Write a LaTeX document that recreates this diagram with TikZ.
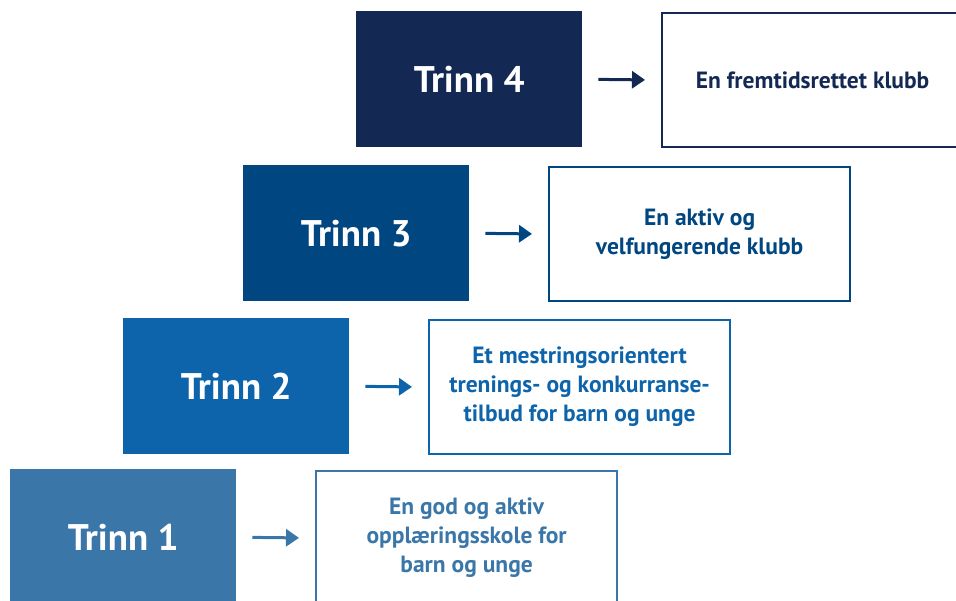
\documentclass[tikz,border=0pt]{standalone}
\usepackage{fontspec}
\setmainfont{PT Sans}
\usetikzlibrary{arrows.meta}
\definecolor{trinnA}{RGB}{58,118,168}
\definecolor{trinnB}{RGB}{13,100,170}
\definecolor{trinnC}{RGB}{0,70,128}
\definecolor{trinnD}{RGB}{19,40,82}
\tikzset{
  trinn/.style = {fill = #1, minimum width = 226pt, minimum height = 136pt, inner sep = 0pt,
    text = white, font = \fontsize{37}{44}\selectfont\bfseries},
  maal/.style = {draw = #1, line width = 2.2pt, minimum width = 301pt, minimum height = 134pt,
    text = #1, align = center, font = \fontsize{23.5}{29}\selectfont\bfseries},
  pil/.style = {draw = #1, line width = 3pt, -{Triangle[length=13pt,width=17pt]},
    shorten < = 16pt, shorten > = 16pt}
}

\begin{document}
\begin{tikzpicture}[x = 1pt, y = -1pt]
\useasboundingbox (0,0) rectangle (956,601);
\clip (0,0) rectangle (956,601);
% steps, from the bottom up
\foreach \n/\x/\y/\c/\t in {
  1/10/469/trinnA/{En god og aktiv\\opplæringsskole for\\barn og unge},
  2/123/318/trinnB/{Et mestringsorientert\\trenings- og konkurranse-\\tilbud for barn og unge},
  3/243/165/trinnC/{En aktiv og\\velfungerende klubb},
  4/356/11/trinnD/{En fremtidsrettet klubb}} {
  \node[trinn = \c, anchor = north west] (t\n) at (\x,\y) {Trinn \n};
  \node[maal = \c, anchor = north west] (m\n) at (\x+305,\y+1) {\t};
  \draw[pil = \c] (t\n.east) -- (m\n.west);
}
\end{tikzpicture}
\end{document}
